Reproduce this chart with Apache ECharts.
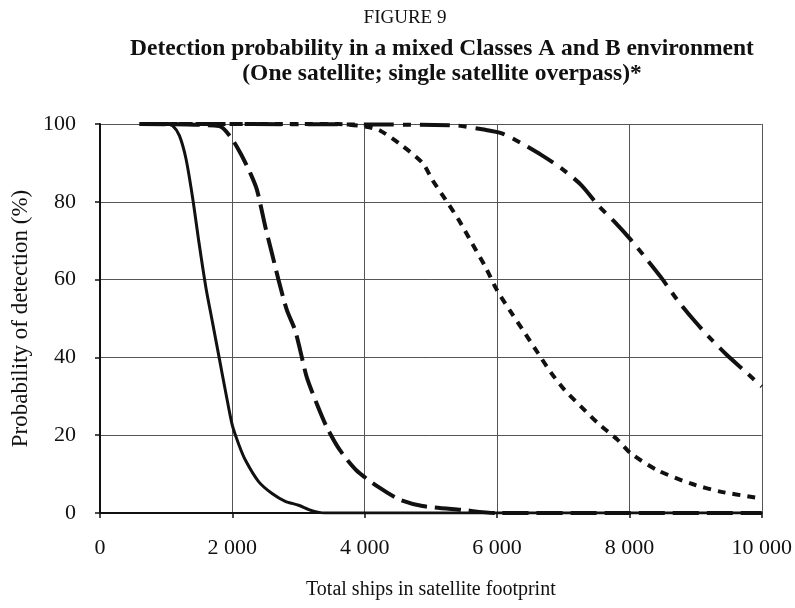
<!DOCTYPE html>
<html>
<head>
<meta charset="utf-8">
<script src="https://cdn.jsdelivr.net/npm/echarts@6/dist/echarts.min.js"></script>
<style>
  html, body { margin: 0; padding: 0; background: #fff; }
  #chart { width: 795px; height: 608px; }
</style>
</head>
<body>
<div id="chart"></div>
<script>
// Total ships in footprint (x) and detection probability in % (y) for each curve
const solidX = [600, 1000, 1100, 1200, 1300, 1400, 1500, 1600, 1700, 1800, 1900, 2000, 2100, 2200, 2400, 2600, 2800, 3000, 3200, 3400, 10000];
const solidY = [100, 100, 99.5, 97, 91, 81, 69, 58, 49, 40, 31, 22.5, 17.5, 13.5, 8, 5, 3, 2, 0.6, 0, 0];

const longDashX = [600, 1800, 1973, 2123, 2273, 2373, 2498, 2598, 2698, 2823, 2948, 3023, 3123, 3273, 3423, 3623, 3873, 4223, 4523, 4873, 5473, 5973, 10000];
const longDashY = [100, 99.5, 96.7, 92.5, 87.3, 83, 73.6, 66.8, 59.9, 52.2, 47, 42, 35, 28.2, 22.2, 16.2, 11, 6.5, 3.5, 1.8, 0.8, 0, 0];

const shortDashX = [600, 3600, 4023, 4223, 4523, 4873, 5023, 5223, 5423, 5623, 5823, 5998, 6223, 6423, 6623, 6823, 7023, 7273, 7523, 7823, 8023, 8423, 8923, 9373, 9900];
const shortDashY = [100, 100, 99.3, 98.4, 95, 90, 85.6, 80.5, 75.3, 69.3, 63.3, 57.3, 51.3, 46.2, 41, 35.9, 31.6, 27.3, 23.1, 18.8, 15.3, 11, 7.6, 5.5, 4];

const dashDotX = [600, 5323, 5823, 6073, 6373, 6673, 6973, 7273, 7523, 7773, 8023, 8273, 8473, 8723, 8973, 9223, 9473, 9723, 10000];
const dashDotY = [100, 99.7, 98.5, 97.6, 95, 92, 88.6, 84.3, 79.2, 74.9, 70.2, 65, 60.7, 54.8, 49.6, 44.9, 40.6, 36.8, 32.5];

const zip = (xs, ys) => xs.map((x, i) => [x, ys[i]]);
// thousands grouped with a space: 10000 -> "10 000"
const fmtThousands = v => String(v).replace(/\B(?=(\d{3})+(?!\d))/g, ' ');

const serif = '"Liberation Serif", "Times New Roman", serif';

const chart = echarts.init(document.getElementById('chart'), null, { renderer: 'canvas' });

function curve(name, data, width, dash) {
  return {
    name, type: 'line', data, showSymbol: false, smooth: 0.25,
    lineStyle: { color: '#111', width, type: dash, cap: 'butt', join: 'round' },
    emphasis: { disabled: true }, silent: true
  };
}

chart.setOption({
  animation: false,
  backgroundColor: '#fff',
  title: [
    {
      text: 'FIGURE 9', left: 400, textAlign: 'center', top: 4,
      textStyle: { fontFamily: serif, fontSize: 19, fontWeight: 'normal', color: '#111' }
    },
    {
      text: 'Detection probability in a mixed Classes A and B environment\n(One satellite; single satellite overpass)*',
      left: 437, textAlign: 'center', top: 31,
      textStyle: { fontFamily: serif, fontSize: 23.5, fontWeight: 'bold', color: '#111', lineHeight: 25 }
    }
  ],
  grid: { left: 100, right: 32, top: 124, bottom: 95, containLabel: false },
  xAxis: {
    type: 'value', min: 0, max: 10000, interval: 2000,
    name: 'Total ships in satellite footprint', nameLocation: 'middle', nameGap: 67,
    nameTextStyle: { fontFamily: serif, fontSize: 20, color: '#111' },
    axisLine: { lineStyle: { color: '#111', width: 2 } },
    axisTick: { show: true, length: 5, lineStyle: { color: '#111', width: 1.5 } },
    axisLabel: { fontFamily: serif, fontSize: 22, color: '#111', margin: 24, formatter: fmtThousands, showMaxLabel: true },
    splitLine: { show: true, lineStyle: { color: '#555', width: 1 } }
  },
  yAxis: {
    type: 'value', min: 0, max: 100, interval: 20,
    name: 'Probability of detection (%)', nameLocation: 'middle', nameGap: 65,
    nameTextStyle: { fontFamily: serif, fontSize: 23, color: '#111' },
    axisLine: { show: true, lineStyle: { color: '#111', width: 2 } },
    axisTick: { show: true, length: 5, lineStyle: { color: '#111', width: 1.5 } },
    axisLabel: { fontFamily: serif, fontSize: 22, color: '#111', margin: 24 },
    splitLine: { show: true, lineStyle: { color: '#555', width: 1 } }
  },
  series: [
    curve('solid', zip(solidX, solidY), 3, 'solid'),
    curve('long dash', zip(longDashX, longDashY), 4, [26, 8]),
    curve('short dash', zip(shortDashX, shortDashY), 4, [8, 7]),
    curve('dash dot', zip(dashDotX, dashDotY), 4, [30, 9, 8, 9])
  ]
});
</script>
</body>
</html>
